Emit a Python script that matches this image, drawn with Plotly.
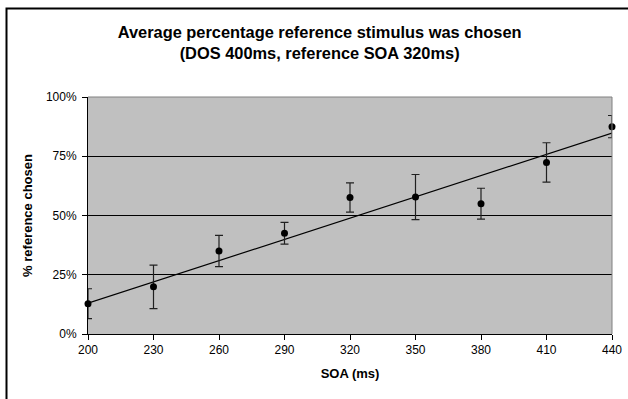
import plotly.graph_objects as go

# ---- data ----
soa_ms = [200, 230, 260, 290, 320, 350, 380, 410, 440]
pct_reference = [12.8, 19.9, 35.0, 42.5, 57.6, 57.8, 55.0, 72.4, 87.5]
pct_error = [6.3, 9.2, 6.6, 4.6, 6.2, 9.5, 6.5, 8.3, 4.7]
trend_x = [200, 440]
trend_y = [13.0, 84.8]
x_ticks = [200, 230, 260, 290, 320, 350, 380, 410, 440]
y_ticks = [0, 25, 50, 75, 100]
y_tick_labels = [f"{v}%" for v in y_ticks]

FONT = "Liberation Sans, Arial, sans-serif"

W, H = 628, 399
ML, MR, MT, MB = 88, 16, 97, 65
PW = W - ML - MR
PH = H - MT - MB

def px_x(px):
    return (px - ML) / PW

def px_y(py):
    return (H - MB - py) / PH

fig = go.Figure()

fig.add_trace(go.Scatter(
    x=trend_x, y=trend_y, mode="lines",
    line=dict(color="black", width=1.2),
    hoverinfo="skip", showlegend=False,
))

fig.add_trace(go.Scatter(
    x=soa_ms, y=pct_reference, mode="markers",
    marker=dict(color="black", size=7),
    error_y=dict(type="data", array=pct_error, visible=True,
                 color="#202020", thickness=1.2, width=4),
    showlegend=False, cliponaxis=False,
))

fig.update_layout(
    width=W, height=H,
    margin=dict(l=ML, r=MR, t=MT, b=MB, autoexpand=False),
    paper_bgcolor="white",
    plot_bgcolor="#C0C0C0",
    font=dict(family=FONT, color="black", size=12),
    title=dict(
        text="<b>Average percentage reference stimulus was chosen<br>(DOS 400ms, reference SOA 320ms)</b>",
        font=dict(family=FONT, size=16.4, color="black"),
        x=0.509, xref="container", xanchor="center",
        y=1 - 38 / H, yref="container", yanchor="top",
    ),
    xaxis=dict(
        range=[200, 440], tickvals=x_ticks,
        showline=True, linecolor="black", linewidth=1,
        ticks="outside", ticklen=5, tickcolor="black",
        showgrid=False, zeroline=False, automargin=False,
        tickfont=dict(family=FONT, size=12, color="black"),
        title=dict(text="<b>SOA (ms)</b>", font=dict(family=FONT, size=13, color="black"),
                   standoff=12),
    ),
    yaxis=dict(
        range=[0, 100], tickvals=y_ticks, ticktext=y_tick_labels,
        showline=True, linecolor="black", linewidth=1,
        ticks="outside", ticklen=5, tickcolor="black",
        showgrid=True, gridcolor="black", gridwidth=1,
        zeroline=False, automargin=False, ticklabelstandoff=3,
        tickfont=dict(family=FONT, size=12, color="black"),
        title=dict(text="<b>% reference chosen</b>", font=dict(family=FONT, size=13, color="black"),
                   standoff=10),
    ),
    shapes=[
        dict(type="line", xref="paper", yref="paper", x0=0, x1=1, y0=1, y1=1,
             line=dict(color="#808080", width=1), layer="above"),
        dict(type="line", xref="paper", yref="paper", x0=1, x1=1, y0=0, y1=1,
             line=dict(color="#808080", width=1), layer="above"),
        dict(type="rect", xref="paper", yref="paper",
             x0=px_x(6.5), x1=px_x(W + 20), y0=px_y(H + 20), y1=px_y(8.5),
             line=dict(color="black", width=2), fillcolor="rgba(0,0,0,0)", layer="above"),
    ],
)

fig.write_html(
    "out.html",
    config={"displayModeBar": False},
    post_script="document.body.style.margin='0';document.body.style.padding='0';",
)
